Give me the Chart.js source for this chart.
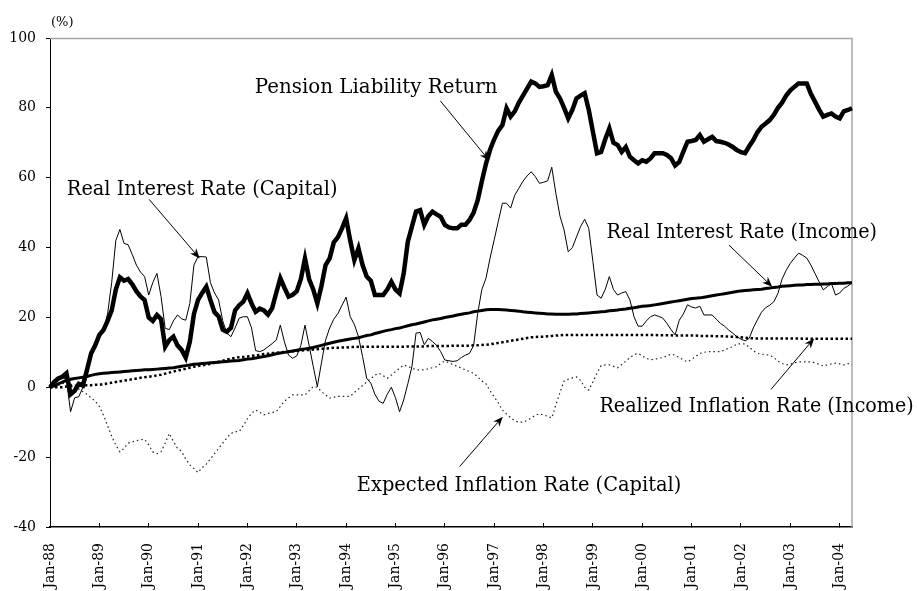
<!DOCTYPE html>
<html>
<head>
<meta charset="utf-8">
<script src="https://cdn.jsdelivr.net/npm/chart.js@4.4.1/dist/chart.umd.min.js"></script>
<style>
  body { margin: 0; background: #fff; }
  canvas { display: block; }
</style>
</head>
<body>
<canvas id="lineChart" width="919" height="591"></canvas>
<script>
// monthly categories, Jan-88 .. Apr-04
const monthNames = ['Jan','Feb','Mar','Apr','May','Jun','Jul','Aug','Sep','Oct','Nov','Dec'];
const startYear = 1988;
const numMonths = 196;
const categories = [];
for (let i = 0; i < numMonths; i++) {
  const yy = String((startYear + Math.floor(i / 12)) % 100).padStart(2, '0');
  categories.push(monthNames[i % 12] + '-' + yy);
}

const yTicks = [-40, -20, 0, 20, 40, 60, 80, 100];

// cumulative returns (%), one row per year
const pensionLiability = [
  0, 1.5, 2.5, 3, 4, -2, -1, 1, 0.5, 5, 9.7, 12,
  15, 16.4, 19, 22, 28, 31.5, 30.5, 31, 29.5, 27.5, 26, 25,
  20, 19, 20.7, 19.5, 11.6, 13.5, 14.5, 12, 10.7, 8.5, 13, 21,
  25, 27, 28.8, 25, 21.5, 20.3, 16.5, 15.9, 17, 22, 23.5, 24.5,
  26.9, 24, 21.6, 22.5, 22, 20.8, 22.6, 27, 31.2, 28.5, 26, 26.5,
  27.5, 31, 36.9, 31, 28, 24, 29, 35, 36.9, 41.5, 43, 45.5,
  48.4, 42, 36.4, 39.8, 35, 31.7, 30.5, 26.4, 26.4, 26.4, 28, 30.2,
  28, 26.9, 32.6, 41.7, 46, 50.3, 50.7, 46.5, 49, 50.3, 49.5, 48.8,
  46.5, 45.8, 45.5, 45.5, 46.5, 46.5, 47.9, 50, 53.6, 59, 64, 68,
  71, 73.5, 75.1, 79.9, 77.5, 79, 81.5, 83.5, 85.5, 87.5, 87, 86,
  86.2, 86.5, 89.4, 84.6, 82.7, 80, 77, 79.4, 82.7, 83.5, 84.2, 79.4,
  73.2, 67, 67.4, 71, 74.1, 70, 69.4, 67.4, 68.8, 66, 65, 64.1,
  65, 64.6, 65.5, 67, 67, 67, 66.5, 65.6, 63.5, 64.5, 67.5, 70.3,
  70.5, 70.8, 72.2, 70.3, 71, 71.7, 70.5, 70.3, 70, 69.5, 68.8, 67.9,
  67.3, 67, 69, 70.8, 73, 74.6, 75.5, 76.5, 78, 80, 81.5, 83.5,
  85, 86, 87, 87, 87, 84, 81.8, 79.5, 77.5, 78, 78.4, 77.5,
  77, 79, 79.4, 79.9
];

const realCapital = [
  0, 1.5, 2.5, 3, 2, -7, -3, -2.7, 0, 5, 9.7, 12,
  15, 16.4, 21, 30, 42, 45.2, 41.2, 40.8, 38, 35, 33, 31.7,
  26.4, 30, 32.6, 26, 16.9, 16.5, 19, 20.7, 19.6, 19.2, 24, 35,
  37.4, 37.4, 37.3, 30, 27, 25, 19, 15.5, 14.5, 17, 19.8, 20.2,
  20.2, 17, 10.5, 10.2, 10.7, 11.6, 12.5, 13.5, 17.8, 13, 9.2, 8.3,
  9, 12, 17.8, 12, 6, 0.2, 7, 13.5, 17, 19.5, 21.1, 23.5,
  25.8, 20.2, 18, 14.5, 8.8, 2.6, 1.2, -2, -4, -4.6, -2, 0,
  -3, -7, -3.6, 1, 5.9, 15.5, 15.7, 12.2, 14, 13.1, 12, 10.2,
  7.8, 7.6, 7.4, 7.6, 8.5, 9.2, 9.7, 12, 21.2, 28, 31.2, 37,
  42.2, 47.5, 52.7, 52.7, 51.3, 55, 57, 59, 60.5, 61.7, 60.3, 58.4,
  58.7, 59.1, 63, 55.5, 49, 45, 38.8, 40, 43, 46, 48.1, 45.5,
  36, 26.4, 25.5, 28, 31.7, 28, 26.4, 27, 27.4, 25, 20.2, 17.5,
  17.5, 19, 20.2, 20.7, 20.3, 19.8, 18.3, 16.5, 15, 19.2, 21, 23.6,
  23, 22.7, 23.2, 20.7, 20.7, 20.7, 19.5, 18.3, 17.5, 16.4, 15.5, 14.5,
  13.8, 13.3, 14, 17, 19.3, 21.5, 22.8, 23.5, 24.5, 26.9, 31, 33.5,
  35.5, 37, 38.4, 37.8, 37, 35, 32.6, 30.2, 27.9, 28.8, 29.7, 26.4,
  27, 28.3, 29, 29.9
];

const realIncome = [
  0, 0.5, 1, 1.5, 2, 2.3, 2.5, 2.7, 2.9, 3.1, 3.4, 3.7,
  3.9, 4, 4.1, 4.2, 4.3, 4.4, 4.5, 4.6, 4.7, 4.8, 4.9, 5,
  5, 5.1, 5.2, 5.3, 5.4, 5.5, 5.6, 5.8, 6, 6.2, 6.4, 6.6,
  6.7, 6.8, 6.9, 7, 7.1, 7.2, 7.3, 7.4, 7.5, 7.6, 7.7, 7.9,
  8.1, 8.2, 8.4, 8.6, 8.8, 9, 9.3, 9.6, 9.8, 10, 10.2, 10.4,
  10.6, 10.8, 11, 11.2, 11.4, 11.7, 12, 12.3, 12.6, 12.9, 13.2, 13.4,
  13.6, 13.8, 14, 14.2, 14.5, 14.8, 15, 15.4, 15.7, 16, 16.3, 16.5,
  16.8, 17, 17.3, 17.6, 17.9, 18.1, 18.4, 18.7, 19, 19.3, 19.5, 19.7,
  20, 20.2, 20.4, 20.7, 20.9, 21.1, 21.3, 21.6, 21.8, 22, 22.2, 22.3,
  22.3, 22.3, 22.2, 22.1, 22, 21.9, 21.8, 21.6, 21.5, 21.4, 21.3, 21.2,
  21.1, 21, 21, 20.9, 20.9, 20.9, 20.9, 21, 21, 21.1, 21.2, 21.3,
  21.4, 21.5, 21.6, 21.7, 21.9, 22, 22.1, 22.3, 22.4, 22.6, 22.8, 23,
  23.2, 23.3, 23.4, 23.6, 23.8, 24, 24.2, 24.4, 24.6, 24.8, 25, 25.2,
  25.4, 25.5, 25.6, 25.8, 26, 26.2, 26.4, 26.6, 26.8, 27, 27.2, 27.4,
  27.6, 27.7, 27.8, 27.9, 28, 28.1, 28.3, 28.4, 28.6, 28.7, 28.9, 29,
  29.1, 29.2, 29.3, 29.3, 29.4, 29.4, 29.5, 29.5, 29.6, 29.6, 29.7, 29.7,
  29.8, 29.8, 29.9, 29.9
];

const realizedInflation = [
  0, 0, 0, 0, 0.2, 0.3, 0.4, 0.5, 0.5, 0.6, 0.6, 0.7,
  0.7, 0.9, 1.1, 1.3, 1.5, 1.7, 1.9, 2.1, 2.3, 2.5, 2.7, 2.9,
  3, 3.2, 3.4, 3.6, 3.9, 4.2, 4.5, 4.8, 5, 5.3, 5.6, 5.9,
  6.1, 6.3, 6.5, 6.7, 7, 7.3, 7.6, 7.9, 8.2, 8.4, 8.6, 8.7,
  8.8, 9, 9.1, 9.3, 9.5, 9.6, 9.8, 9.9, 10, 10.1, 10.2, 10.3,
  10.4, 10.5, 10.6, 10.7, 10.8, 10.9, 11, 11.1, 11.2, 11.3, 11.3, 11.4,
  11.4, 11.5, 11.5, 11.6, 11.6, 11.6, 11.6, 11.6, 11.6, 11.6, 11.6, 11.6,
  11.6, 11.6, 11.6, 11.7, 11.7, 11.7, 11.7, 11.7, 11.8, 11.8, 11.8, 11.8,
  11.8, 11.8, 11.9, 11.9, 11.9, 11.9, 11.9, 12, 12, 12.1, 12.2, 12.3,
  12.5, 12.7, 12.9, 13.1, 13.3, 13.5, 13.7, 13.9, 14.1, 14.3, 14.4, 14.5,
  14.5, 14.6, 14.7, 14.8, 14.9, 15, 15, 15, 15, 15, 15, 15,
  15, 15, 15, 15, 15, 15, 15, 15, 15, 15, 15, 15,
  15, 15, 15, 15, 14.9, 14.9, 14.9, 14.9, 14.8, 14.8, 14.8, 14.8,
  14.8, 14.8, 14.7, 14.7, 14.7, 14.7, 14.6, 14.6, 14.6, 14.5, 14.5, 14.4,
  14.3, 14.2, 14.1, 14, 14, 14, 14, 14, 14, 14, 14, 14,
  14, 14, 14, 13.9, 13.9, 13.9, 13.9, 13.9, 13.9, 13.9, 13.9, 13.9,
  13.9, 13.9, 13.9, 13.9
];

const expectedInflation = [
  -0.5, 0, 0.5, 1, 1.5, 1, 0, -0.5, -1.3, -2, -3, -4,
  -5.5, -8, -11, -14, -16.5, -18.5, -17.5, -16, -15.6, -15.3, -15, -14.9,
  -16.5, -18.5, -19, -18.5, -16, -13.2, -15.5, -17.5, -18.4, -20.5, -22.2, -23.3,
  -24.4, -23, -22, -20.5, -19, -17.5, -16, -14.5, -13.2, -12.7, -12.7, -11,
  -9, -7.5, -6.5, -7.2, -7.9, -7.5, -7.2, -7, -5.5, -4, -3, -2.2,
  -2.2, -2.2, -2.2, -1, 0.2, 0, -1.2, -2.2, -3.1, -2.8, -2.6, -2.6,
  -2.6, -2.6, -1.5, -0.5, 0.5, 1.5, 2.5, 3.5, 4, 3.3, 2.6, 3.5,
  4.5, 5.5, 6.4, 6, 5.5, 5, 5, 5, 5.3, 5.6, 5.9, 6.8,
  7.5, 7, 6.5, 6, 5.5, 5, 4.5, 4, 3, 1.8, 1, -1,
  -2.7, -4.5, -6.5, -7.7, -8.7, -9.6, -10, -10, -9.5, -8.8, -8, -7.6,
  -7.9, -8.3, -8.8, -5, -1.5, 1.8, 2.3, 2.7, 3, 2, 0, -0.8,
  1.5, 4, 6.2, 6.4, 6.4, 6, 5.6, 6.5, 7.5, 8.5, 9.3, 9.7,
  9, 8.3, 7.9, 8, 8.3, 8.5, 9, 9.5, 9.2, 8.5, 7.8, 7.3,
  8, 8.8, 9.7, 10, 10.2, 10.2, 10.2, 10.2, 10.7, 11.2, 11.6, 12.4,
  12.4, 12.4, 11.5, 10.5, 9.7, 9.5, 9.3, 9.2, 8.5, 7.5, 6.8, 6.4,
  6.6, 7, 7.3, 7.3, 7.3, 7.3, 7, 6.6, 6.1, 6.4, 6.7, 6.9,
  6.7, 6.4, 6.8, 6.4
];

// callout labels: text from left..right month at baseline %, arrow tail and head (month index, %)
const callouts = [
  { text: 'Pension Liability Return', at: [49.8, 84.3], right: 108.8, from: [94.9, 82.0], to: [106.8, 64.9] },
  { text: 'Real Interest Rate (Capital)', at: [4.1, 55.0], right: 69.9, from: [24.1, 53.8], to: [36.4, 36.9] },
  { text: 'Real Interest Rate (Income)', at: [135.3, 42.7], right: 201.1, from: [165.1, 40.7], to: [175.6, 28.8] },
  { text: 'Realized Inflation Rate (Income)', at: [133.6, -7.0], right: 210, from: [175.3, -0.6], to: [185.8, 14.0] },
  { text: 'Expected Inflation Rate (Capital)', at: [74.6, -29.7], right: 153.5, from: [99.6, -22.7], to: [110.1, -8.4] }
];

const SERIF = '"DejaVu Serif", serif';

const framePlugin = {
  id: 'frame',
  beforeDatasetsDraw(chart) {
    const { ctx, chartArea: a } = chart;
    ctx.save();
    ctx.strokeStyle = '#a6a6a6';
    ctx.lineWidth = 1.5;
    ctx.beginPath();
    ctx.moveTo(a.left, a.top + 0.5);
    ctx.lineTo(a.right, a.top + 0.5);
    ctx.lineTo(a.right, a.bottom);
    ctx.stroke();
    ctx.restore();
  }
};

function drawArrow(ctx, x1, y1, x2, y2) {
  const ang = Math.atan2(y2 - y1, x2 - x1);
  const len = 10, half = 4;
  const cos = Math.cos(ang), sin = Math.sin(ang);
  ctx.beginPath();
  ctx.moveTo(x1, y1);
  ctx.lineTo(x2 - cos * len * 0.7, y2 - sin * len * 0.7);
  ctx.stroke();
  ctx.beginPath();
  ctx.moveTo(x2, y2);
  ctx.lineTo(x2 - cos * len + sin * half, y2 - sin * len - cos * half);
  ctx.lineTo(x2 - cos * len * 0.7, y2 - sin * len * 0.7);
  ctx.lineTo(x2 - cos * len - sin * half, y2 - sin * len + cos * half);
  ctx.closePath();
  ctx.fill();
}

const calloutPlugin = {
  id: 'callouts',
  afterDatasetsDraw(chart) {
    const { ctx, chartArea: a } = chart;
    const xs = chart.scales.x, ys = chart.scales.y;
    ctx.save();
    ctx.fillStyle = '#000';
    ctx.strokeStyle = '#000';
    ctx.lineWidth = 1;
    ctx.font = '20px ' + SERIF;
    ctx.textAlign = 'left';
    ctx.textBaseline = 'alphabetic';
    for (const c of callouts) {
      const left = xs.getPixelForValue(c.at[0]);
      const maxW = xs.getPixelForValue(c.right) - left;
      ctx.fillText(c.text, left, ys.getPixelForValue(c.at[1]), maxW);
      drawArrow(ctx,
        xs.getPixelForValue(c.from[0]), ys.getPixelForValue(c.from[1]),
        xs.getPixelForValue(c.to[0]), ys.getPixelForValue(c.to[1]));
    }
    // unit label above the y axis
    ctx.font = '13px ' + SERIF;
    ctx.fillText('(%)', a.left + 1, a.top - 12);
    ctx.restore();
  }
};

function series(data, width, dash, color) {
  return {
    data: data,
    borderColor: color || '#000',
    backgroundColor: color || '#000',
    borderWidth: width,
    borderDash: dash || [],
    pointRadius: 0,
    tension: 0,
    fill: false
  };
}

new Chart(document.getElementById('lineChart'), {
  type: 'line',
  data: {
    labels: categories,
    datasets: [
      series(pensionLiability, 4.5),
      series(realIncome, 3),
      series(realCapital, 1),
      series(realizedInflation, 2.5, [2.5, 2.5]),
      series(expectedInflation, 1.2, [1.5, 3], '#222')
    ]
  },
  options: {
    responsive: false,
    animation: false,
    layout: { padding: { top: 38, right: 67, left: 0, bottom: 0 } },
    plugins: { legend: { display: false }, tooltip: { enabled: false } },
    scales: {
      x: {
        type: 'category',
        offset: false,
        afterFit(scale) { scale.height = 64; },
        border: { color: '#000', width: 1.5 },
        grid: {
          drawOnChartArea: false,
          drawTicks: true,
          tickLength: -4,
          color: '#000',
          lineWidth: ctx => (ctx.index % 12 === 0 ? 1 : 0)
        },
        ticks: {
          autoSkip: false,
          minRotation: 90,
          maxRotation: 90,
          padding: 20,
          color: '#000',
          font: { family: SERIF, size: 14 },
          callback: (val, idx) => (idx % 12 === 0 ? categories[idx] : '')
        }
      },
      y: {
        min: yTicks[0],
        max: yTicks[yTicks.length - 1],
        afterFit(scale) { scale.width = 50; },
        afterBuildTicks(scale) { scale.ticks = yTicks.map(v => ({ value: v })); },
        border: { color: '#000', width: 1 },
        grid: { drawOnChartArea: false, drawTicks: true, tickLength: 4, color: '#000' },
        ticks: {
          padding: 10,
          color: '#000',
          font: { family: SERIF, size: 14 }
        }
      }
    }
  },
  plugins: [framePlugin, calloutPlugin]
});
</script>
</body>
</html>
